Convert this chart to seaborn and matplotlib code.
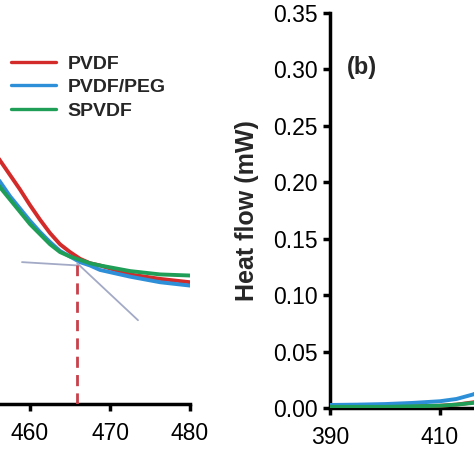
import numpy as np
import pandas as pd
import seaborn as sns
import matplotlib
matplotlib.use("Agg")
import matplotlib.pyplot as plt

# ---- data ----
# panel (a): curves around the transition, temperature vs heat flow (mW)
temp_a = [455, 456.25, 457.5, 458.75, 460, 461.25, 462.5, 463.75, 465,
          466.25, 467.5, 468.75, 472.5, 476.25, 480]
pvdf_a = [0.232, 0.218, 0.205, 0.192, 0.178, 0.165, 0.153, 0.143, 0.136,
          0.130, 0.126, 0.124, 0.116, 0.112, 0.109]
peg_a = [0.211, 0.199, 0.186, 0.175, 0.164, 0.154, 0.145, 0.137, 0.132,
         0.127, 0.124, 0.120, 0.114, 0.109, 0.106]
spvdf_a = [0.207, 0.194, 0.183, 0.172, 0.161, 0.152, 0.143, 0.136, 0.132,
           0.129, 0.126, 0.124, 0.119, 0.116, 0.115]

# tangent construction and onset temperature
tan1_x = [459, 466]
tan1_y = [0.127, 0.124]
tan2_x = [465.9, 473.5]
tan2_y = [0.126, 0.075]
onset_x = 465.9
onset_y = 0.124

# panel (b): start of the curves
temp_b = [390, 395, 400, 405, 410, 413, 416, 420]
pvdf_b = [0.001, 0.001, 0.0012, 0.0015, 0.002, 0.003, 0.005, 0.008]
peg_b = [0.0027, 0.003, 0.0035, 0.0045, 0.006, 0.008, 0.012, 0.020]
spvdf_b = [0.001, 0.001, 0.001, 0.0015, 0.002, 0.003, 0.0045, 0.007]

names = ["PVDF", "PVDF/PEG", "SPVDF"]
colors = ["#d32a2a", "#2d8fd8", "#1f9e58"]

def long_table(t, series):
    rows = []
    for name, vals in zip(names, series):
        for x, y in zip(t, vals):
            rows.append((x, y, name))
    return pd.DataFrame(rows, columns=["T", "HF", "sample"])

df_a = long_table(temp_a, [pvdf_a, peg_a, spvdf_a])
df_b = long_table(temp_b, [pvdf_b, peg_b, spvdf_b])

sns.set_style("white")
plt.rcParams["font.family"] = ["Liberation Sans", "DejaVu Sans"]

fig = plt.figure(figsize=(4.74, 4.74), dpi=100)
W = 474.0
# left panel runs past the left edge of the picture
ax1 = fig.add_axes([-210 / W, 70 / W, 400 / W, 391 / W])
# right panel runs past the right edge
ax2 = fig.add_axes([330 / W, 66 / W, 440 / W, 395 / W])

pal = dict(zip(names, colors))

sns.lineplot(data=df_a, x="T", y="HF", hue="sample", palette=pal, linewidth=2.8,
             ax=ax1, zorder=3)
ax1.plot(tan1_x, tan1_y, color="#a3aac6", linewidth=1.3, zorder=4)
ax1.plot(tan2_x, tan2_y, color="#a3aac6", linewidth=1.3, zorder=4)
ax1.plot([onset_x, onset_x], [0, onset_y], color="#c8404a", linewidth=2.0,
         linestyle=(0, (4, 2.6)), zorder=4)
ax1.set_xlim(430, 480)
ax1.set_ylim(0, 0.35)
ax1.set_xticks([430, 440, 450, 460, 470, 480])
ax1.set_yticks(np.arange(0, 0.36, 0.05))
ax1.yaxis.set_major_formatter(matplotlib.ticker.FormatStrFormatter("%.2f"))
ax1.set_xlabel("")
ax1.set_ylabel("")
leg = ax1.legend(loc="upper left", bbox_to_anchor=(11 / W, 1 - 55 / W),
                 bbox_transform=fig.transFigure, frameon=False,
                 handlelength=2.3, handletextpad=0.6, labelspacing=0.3,
                 borderaxespad=0, borderpad=0,
                 prop={"weight": "bold", "size": 14})
for h in leg.get_lines():
    h.set_linewidth(2.4)

sns.lineplot(data=df_b, x="T", y="HF", hue="sample", palette=pal, linewidth=2.8,
             ax=ax2, zorder=3, legend=False)
ax2.set_xlim(390, 470)
ax2.set_ylim(0, 0.35)
ax2.set_xticks([390, 410, 430, 450, 470])
ax2.set_yticks(np.arange(0, 0.36, 0.05))
ax2.yaxis.set_major_formatter(matplotlib.ticker.FormatStrFormatter("%.2f"))
ax2.set_xlabel("")
ax2.set_ylabel("Heat flow (mW)", fontsize=18, fontweight="bold", labelpad=10)
ax2.text(393.1, 0.302, "(b)", fontsize=17, fontweight="bold", ha="left", va="center")

for ax in (ax1, ax2):
    for side in ("top", "right"):
        ax.spines[side].set_visible(False)
    for side in ("left", "bottom"):
        ax.spines[side].set_linewidth(2.5)
        ax.spines[side].set_color("black")
    ax.tick_params(direction="out", length=5, width=2.5, labelsize=16.5,
                   bottom=True, left=True, pad=4, colors="black")
    ax.tick_params(axis="x", pad=8)
    ax.set_facecolor("none")

fig.savefig("out.png", dpi=100)
